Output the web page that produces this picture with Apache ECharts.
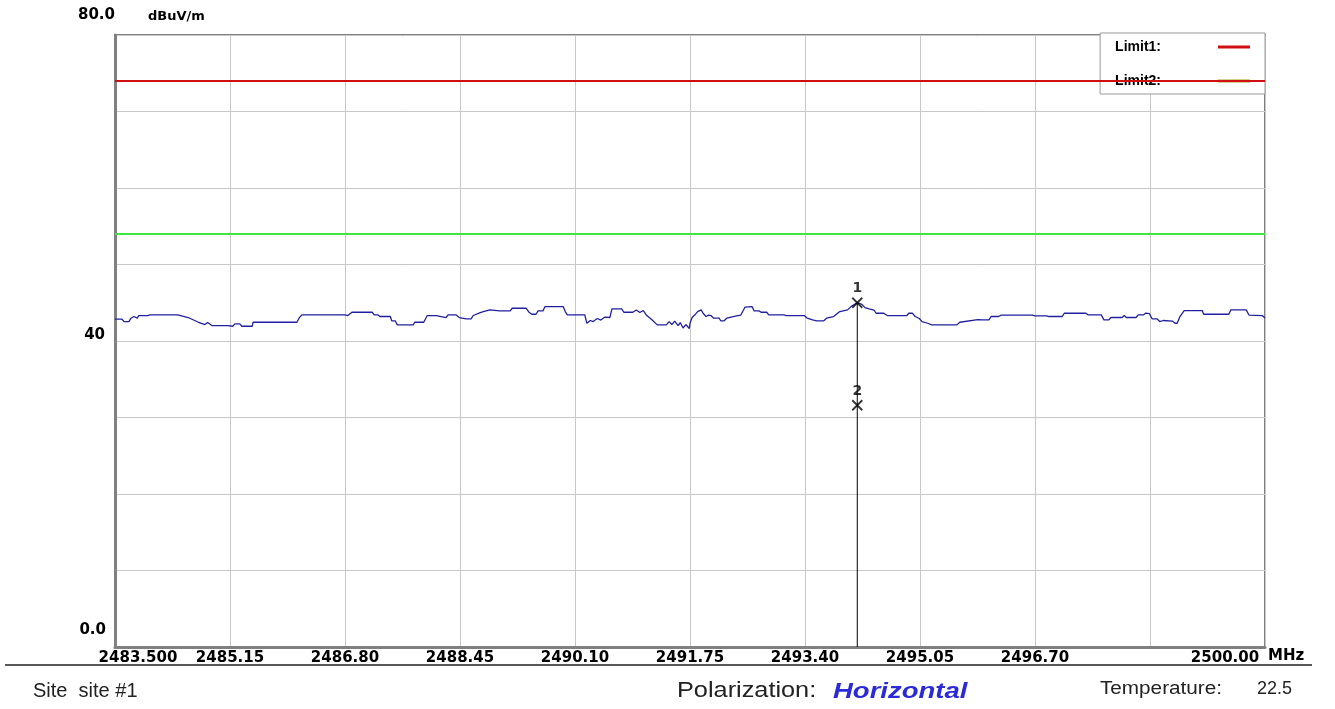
<!DOCTYPE html>
<html><head><meta charset="utf-8">
<script src="https://cdn.jsdelivr.net/npm/echarts@6/dist/echarts.min.js"></script>
<style>html,body{margin:0;padding:0;background:#fff}#c{width:1335px;height:709px}</style>
</head><body><div id="c"></div>
<script>
// ---- data ----
const freq = [2483.50,2483.60,2483.63,2483.70,2483.73,2483.77,2483.82,2483.84,2483.97,2483.99,2484.00,2484.40,2484.55,2484.69,2484.79,2484.83,2484.89,2485.12,2485.19,2485.22,2485.29,2485.32,2485.47,2485.48,2486.11,2486.14,2486.18,2486.80,2486.84,2486.90,2487.19,2487.22,2487.27,2487.30,2487.45,2487.47,2487.52,2487.55,2487.62,2487.78,2487.80,2487.93,2487.98,2488.11,2488.13,2488.25,2488.28,2488.39,2488.44,2488.54,2488.61,2488.64,2488.74,2488.81,2488.88,2489.02,2489.17,2489.20,2489.40,2489.44,2489.48,2489.54,2489.57,2489.64,2489.67,2489.93,2489.96,2489.99,2490.24,2490.27,2490.32,2490.36,2490.42,2490.47,2490.53,2490.60,2490.63,2490.77,2490.80,2490.93,2490.98,2491.03,2491.08,2491.13,2491.20,2491.28,2491.41,2491.45,2491.49,2491.53,2491.58,2491.61,2491.65,2491.69,2491.74,2491.75,2491.78,2491.82,2491.86,2491.91,2491.94,2491.98,2492.02,2492.05,2492.09,2492.17,2492.19,2492.24,2492.28,2492.40,2492.48,2492.54,2492.64,2492.67,2492.74,2492.77,2492.85,2492.88,2493.10,2493.13,2493.39,2493.43,2493.51,2493.57,2493.67,2493.71,2493.81,2493.90,2494.01,2494.07,2494.15,2494.19,2494.22,2494.26,2494.32,2494.39,2494.42,2494.53,2494.58,2494.86,2494.89,2494.94,2494.98,2495.04,2495.08,2495.16,2495.22,2495.58,2495.62,2495.88,2495.95,2496.04,2496.07,2496.18,2496.21,2496.66,2496.70,2496.87,2496.90,2497.09,2497.12,2497.43,2497.46,2497.65,2497.69,2497.76,2497.79,2497.95,2497.98,2498.01,2498.15,2498.18,2498.26,2498.29,2498.34,2498.38,2498.45,2498.49,2498.54,2498.67,2498.71,2498.74,2498.78,2498.84,2499.10,2499.12,2499.48,2499.51,2499.73,2499.77,2499.96,2500.00];
const level = [42.85,42.85,42.54,42.54,42.98,43.20,42.98,43.33,43.33,43.50,43.42,43.42,43.07,42.48,42.15,42.41,42.02,42.02,41.93,42.24,42.24,41.93,41.93,42.45,42.45,42.98,43.42,43.42,43.33,43.76,43.76,43.42,43.42,43.20,43.20,42.64,42.64,42.11,42.11,42.11,42.45,42.45,43.33,43.33,43.07,43.07,43.42,43.42,43.07,42.90,42.90,43.33,43.72,43.92,44.07,43.94,43.94,44.28,44.28,43.76,43.50,43.50,43.94,43.94,44.50,44.50,43.85,43.42,43.42,42.32,42.68,42.54,42.94,42.74,43.13,43.07,44.20,44.20,43.76,43.76,44.05,43.72,43.98,43.33,42.81,42.11,42.11,42.54,42.15,42.61,42.02,42.41,41.70,42.15,41.63,42.32,43.07,43.42,43.85,44.07,43.59,43.20,43.39,43.33,42.98,42.98,42.64,42.64,43.00,43.26,43.39,44.44,44.50,43.94,43.94,43.76,43.76,43.42,43.42,43.33,43.33,43.00,42.77,42.64,42.64,42.98,43.20,43.85,44.07,44.57,45.00,44.90,44.76,44.37,44.20,44.05,43.63,43.63,43.33,43.33,43.63,43.65,43.20,42.94,42.54,42.32,42.11,42.11,42.45,42.80,42.77,42.77,43.20,43.20,43.37,43.37,43.29,43.29,43.20,43.20,43.63,43.63,43.42,43.42,42.77,42.77,43.07,43.07,43.33,43.07,43.07,43.42,43.42,43.65,43.59,42.90,42.90,42.54,42.68,42.61,42.32,42.32,43.20,43.98,43.98,43.50,43.50,44.07,44.07,43.39,43.33,43.00];
const limit1 = 74;
const limit2 = 54;
const xMin = 2483.5, xMax = 2500.0;
const xTickLabels = ['2483.500','2485.15','2486.80','2488.45','2490.10','2491.75','2493.40','2495.05','2496.70','','2500.00'];
const yTickValues = [0, 40, 80];
const yTickLabels = ['0.0', '40', '80.0'];
const markerNames = ['1', '2'];
const markerFreq = [2494.15, 2494.15];
const markerLevel = [45.0, 31.6];

// ---- chart ----
const chart = echarts.init(document.getElementById('c'), null, {renderer: 'canvas'});
const labelFont = 'DejaVu Sans';
const gridLine = {show: true, lineStyle: {color: '#c8c8c8', width: 1}};
const lbl = {fontFamily: labelFont, fontWeight: 'bold', fontSize: 15, color: '#000'};

const option = {
  backgroundColor: '#ffffff',
  animation: false,
  grid: {left: 115, right: 70, top: 35, bottom: 62, show: true, borderColor: '#808080', borderWidth: 2, backgroundColor: '#ffffff'},
  legend: {
    right: 70, top: 33, orient: 'vertical', align: 'right',
    icon: 'rect', itemWidth: 32, itemHeight: 3, itemGap: 20,
    backgroundColor: '#ffffff', borderColor: '#999999', borderWidth: 1,
    padding: [7, 15, 6, 15],
    selectedMode: false,
    data: [{name: 'Limit1'}, {name: 'Limit2', itemStyle: {color: '#a5a521'}}],
    formatter: n => '{n|' + n + ':}',
    textStyle: {rich: {n: {padding: [0, 52, 0, 0], align: 'left', fontFamily: 'Liberation Sans', fontWeight: 'bold', fontSize: 14, color: '#000'}}}
  },
  xAxis: [
    {type: 'value', min: xMin, max: xMax, show: false},
    {
      type: 'category', data: xTickLabels, boundaryGap: false, position: 'bottom',
      axisLine: {show: true, lineStyle: {color: '#808080', width: 3}},
      axisTick: {show: false},
      splitLine: Object.assign({interval: 0}, gridLine),
      name: 'MHz', nameLocation: 'end', nameGap: 3,
      nameTextStyle: Object.assign({align: 'left', verticalAlign: 'top', padding: [2, 0, 0, 0]}, lbl),
      axisLabel: Object.assign({
        interval: 0, margin: 4,
        formatter: (v, i) => i === 0 ? '{first|' + v + '}' : (i === xTickLabels.length - 1 ? '{last|' + v + '}' : v),
        rich: {
          first: Object.assign({padding: [0, 0, 0, 46]}, lbl),
          last: Object.assign({padding: [0, 80, 0, 0]}, lbl)
        }
      }, lbl)
    }
  ],
  yAxis: {
    type: 'value', min: 0, max: 80, interval: 10,
    axisLine: {show: true, lineStyle: {color: '#808080', width: 3}},
    axisTick: {show: false},
    splitLine: gridLine,
    name: 'dBuV/m', nameLocation: 'end', nameGap: 12,
    nameTextStyle: {fontFamily: labelFont, fontWeight: 'bold', fontSize: 13, color: '#000', align: 'left', padding: [0, 0, 0, 33]},
    axisLabel: Object.assign({
      margin: 0,
      formatter: v => { const k = yTickValues.indexOf(v); return k < 0 ? '' : '{y' + v + '|' + yTickLabels[k] + '}'; },
      rich: {
        y0: Object.assign({padding: [0, 9, 34, 0]}, lbl),
        y40: Object.assign({padding: [0, 10, 12, 0]}, lbl),
        y80: Object.assign({padding: [0, 0, 40, 0]}, lbl)
      }
    }, lbl)
  },
  series: [
    {
      name: 'Trace', type: 'line', xAxisIndex: 0, symbol: 'none', z: 3,
      lineStyle: {color: '#2020a0', width: 1.3}, itemStyle: {color: '#2020a0'},
      data: freq.map((f, i) => [f, level[i]])
    },
    {
      name: 'Limit2', type: 'line', xAxisIndex: 0, symbol: 'none', z: 3,
      lineStyle: {color: '#3ee63e', width: 2}, itemStyle: {color: '#3ee63e'},
      data: [[xMin, limit2], [xMax, limit2]]
    },
    {
      name: 'Limit1', type: 'line', xAxisIndex: 0, symbol: 'none', z: 6,
      lineStyle: {color: '#d01010', width: 2}, itemStyle: {color: '#d01010'},
      data: [[xMin, limit1], [xMax, limit1]]
    },
    {
      name: 'MarkerLine', type: 'line', xAxisIndex: 0, symbol: 'none', z: 4,
      lineStyle: {color: '#000', width: 1},
      data: [[markerFreq[0], markerLevel[0]], [markerFreq[0], 0]]
    },
    {
      name: 'Markers', type: 'scatter', xAxisIndex: 0, z: 5,
      symbol: 'path://M0,0L10,10M10,0L0,10', symbolSize: 10,
      itemStyle: {color: 'rgba(0,0,0,0)', borderColor: '#000', borderWidth: 1.8},
      label: {show: true, position: 'top', distance: 1, color: '#000', fontFamily: labelFont, fontWeight: 'bold', fontSize: 14,
        formatter: p => markerNames[p.dataIndex]},
      data: markerFreq.map((f, i) => [f, markerLevel[i]])
    }
  ],
  graphic: [
    {type: 'line', shape: {x1: 5, y1: 665, x2: 1312, y2: 665}, style: {stroke: '#222', lineWidth: 1.5}},
    {type: 'text', x: 33, y: 691, style: {text: 'Site  site #1', font: '20px "Liberation Sans", Arial, sans-serif', fill: '#222', verticalAlign: 'middle'}},
    {type: 'text', x: 677, y: 691, scaleX: 1.15, style: {text: 'Polarization:', font: '22px "Liberation Sans", Arial, sans-serif', fill: '#222', verticalAlign: 'middle'}},
    {type: 'text', x: 833, y: 692, scaleX: 1.25, style: {text: 'Horizontal', font: 'italic bold 22px "Liberation Sans", Arial, sans-serif', fill: '#2a2ad8', verticalAlign: 'middle'}},
    {type: 'text', x: 1100, y: 689, scaleX: 1.15, style: {text: 'Temperature:', font: '18px "Liberation Sans", Arial, sans-serif', fill: '#222', verticalAlign: 'middle'}},
    {type: 'text', x: 1257, y: 689, style: {text: '22.5', font: '18px "Liberation Sans", Arial, sans-serif', fill: '#222', verticalAlign: 'middle'}}
  ]
};
chart.setOption(option);
</script>
</body></html>
